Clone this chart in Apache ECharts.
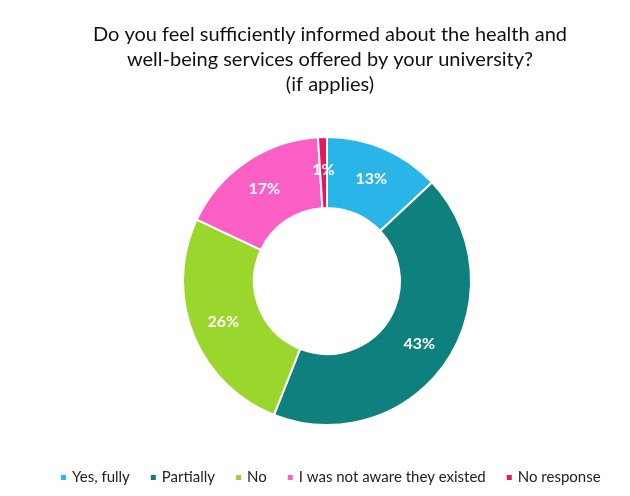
<!DOCTYPE html>
<html>
<head>
<meta charset="utf-8">
<script src="https://cdn.jsdelivr.net/npm/echarts@6/dist/echarts.min.js"></script>
<style>
  html, body { margin: 0; padding: 0; background: #fff; }
  #echarts { width: 630px; height: 496px; }
</style>
</head>
<body>
<div id="echarts"></div>
<script>
// answer categories and share of respondents (%)
var categories = ['Yes, fully', 'Partially', 'No', 'I was not aware they existed', 'No response'];
var percents = [13, 43, 26, 17, 1];
var colors = ['#29b5e8', '#0e807d', '#9bd62c', '#fa5fc6', '#e8175d'];

var myEChart = echarts.init(document.getElementById('echarts'));

var pieData = [];
for (var i = 0; i < categories.length; i++) {
    pieData.push({ name: categories[i], value: percents[i], itemStyle: { color: colors[i] } });
}

var chartOption = {
    textStyle: { fontFamily: 'Lato' },
    title: {
        text: 'Do you feel sufficiently informed about the health and\nwell-being services offered by your university?\n(if applies)',
        left: 325,
        textAlign: 'center',
        top: 17,
        textStyle: {
            fontFamily: 'Lato',
            fontSize: 20,
            fontWeight: 'normal',
            color: '#111',
            lineHeight: 25
        }
    },
    legend: {
        data: categories,
        bottom: 6,
        left: 54,
        icon: 'rect',
        itemWidth: 7,
        itemHeight: 7,
        itemGap: 19,
        textStyle: { fontSize: 15, color: '#222', fontFamily: 'Lato' }
    },
    series: [{
        type: 'pie',
        radius: [73, 144],
        center: [327, 281],
        startAngle: 90,
        clockwise: true,
        avoidLabelOverlap: false,
        itemStyle: { borderColor: '#fff', borderWidth: 2 },
        label: {
            position: 'inside',
            formatter: '{c}%',
            color: '#fff',
            fontSize: 16,
            fontWeight: 'bold',
            fontFamily: 'Lato'
        },
        labelLine: { show: false },
        data: pieData
    }]
};

myEChart.setOption(chartOption);
</script>
</body>
</html>
